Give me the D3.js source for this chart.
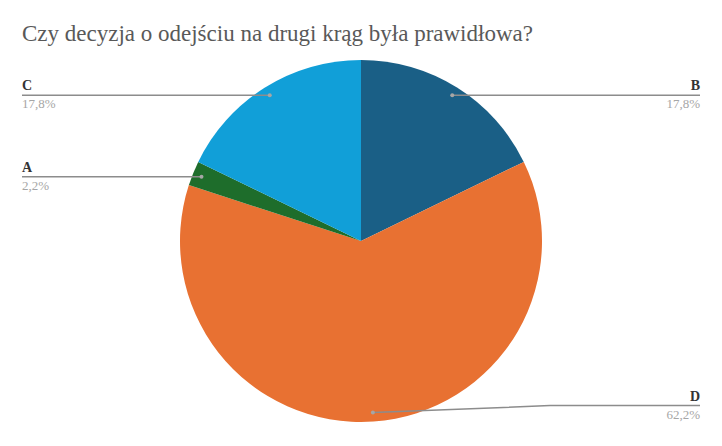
<!DOCTYPE html>
<html><head><meta charset="utf-8">
<script src="https://cdn.jsdelivr.net/npm/d3@7"></script>
<style>body{margin:0;background:#fff}</style>
</head><body>
<svg id="chart" width="722" height="446"></svg>
<script>
const categories = ["B", "D", "A", "C"];
const values = [17.8, 62.2, 2.2, 17.8];
const valueLabels = ["17,8%", "62,2%", "2,2%", "17,8%"];
const colors = ["#1a5f86", "#e87132", "#1e6d2b", "#119fd8"];

const svg = d3.select("#chart");
const cx = 361, cy = 241, radius = 181;
const font = "'Liberation Serif', 'DejaVu Serif', serif";

svg.append("text").attr("x", 22).attr("y", 41)
  .attr("font-family", font).attr("font-size", 23).attr("fill", "#595959")
  .text("Czy decyzja o odejściu na drugi krąg była prawidłowa?");

const pie = d3.pie().sort(null).value(d => d)(values);
const arc = d3.arc().innerRadius(0).outerRadius(radius);
const dotArc = d3.arc().innerRadius(172).outerRadius(172);

const g = svg.append("g").attr("transform", `translate(${cx},${cy})`);
g.selectAll("path").data(pie).enter().append("path")
  .attr("d", arc).attr("fill", (d, i) => colors[i]);

pie.forEach((d, i) => {
  const [px, py] = dotArc.centroid(d);
  const x = cx + px, y = cy + py;
  const right = x > cx;
  const edge = right ? 700 : 22;
  const lineY = i === 1 ? y - 7 : y;
  const knee = i === 1 ? 550 : x;
  svg.append("polyline")
    .attr("points", `${x},${y} ${knee},${lineY} ${edge},${lineY}`)
    .attr("fill", "none").attr("stroke", "#8c8c8c").attr("stroke-width", 1.5);
  svg.append("circle").attr("cx", x).attr("cy", y).attr("r", 2).attr("fill", "#a6a6a6");
  const anchor = right ? "end" : "start";
  svg.append("text").attr("x", edge).attr("y", lineY - 5)
    .attr("text-anchor", anchor).attr("font-family", font).attr("font-size", 14)
    .attr("font-weight", "bold").attr("fill", "#333").text(categories[i]);
  svg.append("text").attr("x", edge).attr("y", lineY + 13)
    .attr("text-anchor", anchor).attr("font-family", font).attr("font-size", 13)
    .attr("fill", "#a6a6a6").text(valueLabels[i]);
});
</script>
</body></html>
